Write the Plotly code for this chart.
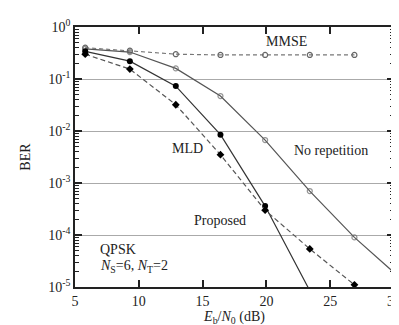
import plotly.graph_objects as go

snr = [5.8, 9.3, 12.9, 16.4, 19.9, 23.4, 26.9]
mmse = [0.40, 0.35, 0.30, 0.29, 0.29, 0.29, 0.29]
snr_norep = [5.8, 9.3, 12.9, 16.4, 19.9, 23.4, 26.9, 30.0]
norep = [0.38, 0.33, 0.16, 0.047, 6.7e-3, 7.0e-4, 9.0e-5, 1.9e-5]
norep_msize = [5, 5, 5, 5, 5, 5, 5, 0]
snr_mld = [5.8, 9.3, 12.9, 16.4, 19.9, 23.4]
mld = [0.34, 0.22, 0.073, 8.5e-3, 3.6e-4, 8.5e-6]
snr_prop = [5.8, 9.3, 12.9, 16.4, 19.9, 23.4, 26.9]
prop = [0.30, 0.155, 0.032, 3.5e-3, 3.0e-4, 5.4e-5, 1.1e-5]

ytickvals = [1, 1e-1, 1e-2, 1e-3, 1e-4, 1e-5]
yticktext = ["10<sup>0</sup>", "10<sup>-1</sup>", "10<sup>-2</sup>", "10<sup>-3</sup>",
             "10<sup>-4</sup>", "10<sup>-5</sup>"]
xtickvals = [5, 10, 15, 20, 25, 30]
yminor = [m * 10 ** e for e in range(-5, 0) for m in range(2, 10)]

FONT = "Liberation Serif, Times New Roman, Times, serif"

fig = go.Figure()
fig.add_trace(go.Scatter(x=snr, y=mmse, mode="lines+markers",
                         line=dict(color="#777777", width=1.2, dash="4px,3px"),
                         marker=dict(symbol="circle-open", size=5, color="#666666", line=dict(width=1.2))))
fig.add_trace(go.Scatter(x=snr_norep, y=norep, mode="lines+markers",
                         line=dict(color="#555555", width=1.2),
                         marker=dict(symbol="circle-open", size=norep_msize, color="#666666", line=dict(width=1.2))))
fig.add_trace(go.Scatter(x=snr_mld, y=mld, mode="lines+markers",
                         line=dict(color="#333333", width=1.2),
                         marker=dict(symbol="circle", size=6, color="black")))
fig.add_trace(go.Scatter(x=snr_prop, y=prop, mode="lines+markers",
                         line=dict(color="#555555", width=1.2, dash="5px,3px"),
                         marker=dict(symbol="diamond", size=6, color="black")))

ann = [
    dict(text="MMSE", x=21.56, y=-0.27, xanchor="center"),
    dict(text="No repetition", x=25.1, y=-2.38, xanchor="center"),
    dict(text="MLD", x=13.8, y=-2.33, xanchor="center"),
    dict(text="Proposed", x=16.4, y=-3.73, xanchor="center"),
    dict(text="QPSK", x=6.84, y=-4.27, xanchor="left"),
    dict(text="<i>N</i><sub>S</sub>=6, <i>N</i><sub>T</sub>=2", x=6.84, y=-4.6, xanchor="left"),
]
for a in ann:
    fig.add_annotation(text=a["text"], x=a["x"], y=a["y"], xref="x", yref="y",
                       xanchor=a["xanchor"], yanchor="middle", showarrow=False,
                       font=dict(family=FONT, size=14, color="#222222"))

fig.update_layout(
    width=399, height=325,
    margin=dict(l=67, r=6, t=19, b=46),
    paper_bgcolor="white", plot_bgcolor="white",
    showlegend=False,
    font=dict(family=FONT, size=14, color="#222222"),
    xaxis=dict(range=[5, 30], tickmode="array", tickvals=xtickvals, ticks="inside",
               ticklen=7, tickwidth=1.5, tickcolor="#222222",
               showline=True, linecolor="#222222", linewidth=1.5, mirror="ticks",
               showgrid=False, zeroline=False,
               tickfont=dict(family=FONT, size=14),
               title=dict(text="<i>E</i><sub>b</sub>/<i>N</i><sub>0</sub> (dB)", standoff=4,
                          font=dict(family=FONT, size=14))),
    yaxis=dict(type="log", range=[-5, 0], tickmode="array", tickvals=ytickvals, ticktext=yticktext,
               ticks="inside", ticklen=7, tickwidth=1.5, tickcolor="#222222",
               showline=True, linecolor="#222222", linewidth=1.5, mirror="ticks",
               showgrid=True, gridcolor="#aaaaaa", gridwidth=1, zeroline=False,
               minor=dict(ticks="inside", ticklen=4, tickwidth=1.2, tickcolor="#222222",
                          showgrid=False, tickmode="array", tickvals=yminor),
               tickfont=dict(family=FONT, size=14),
               title=dict(text="BER", standoff=14, font=dict(family=FONT, size=14))),
)

fig.write_html("out.html")
